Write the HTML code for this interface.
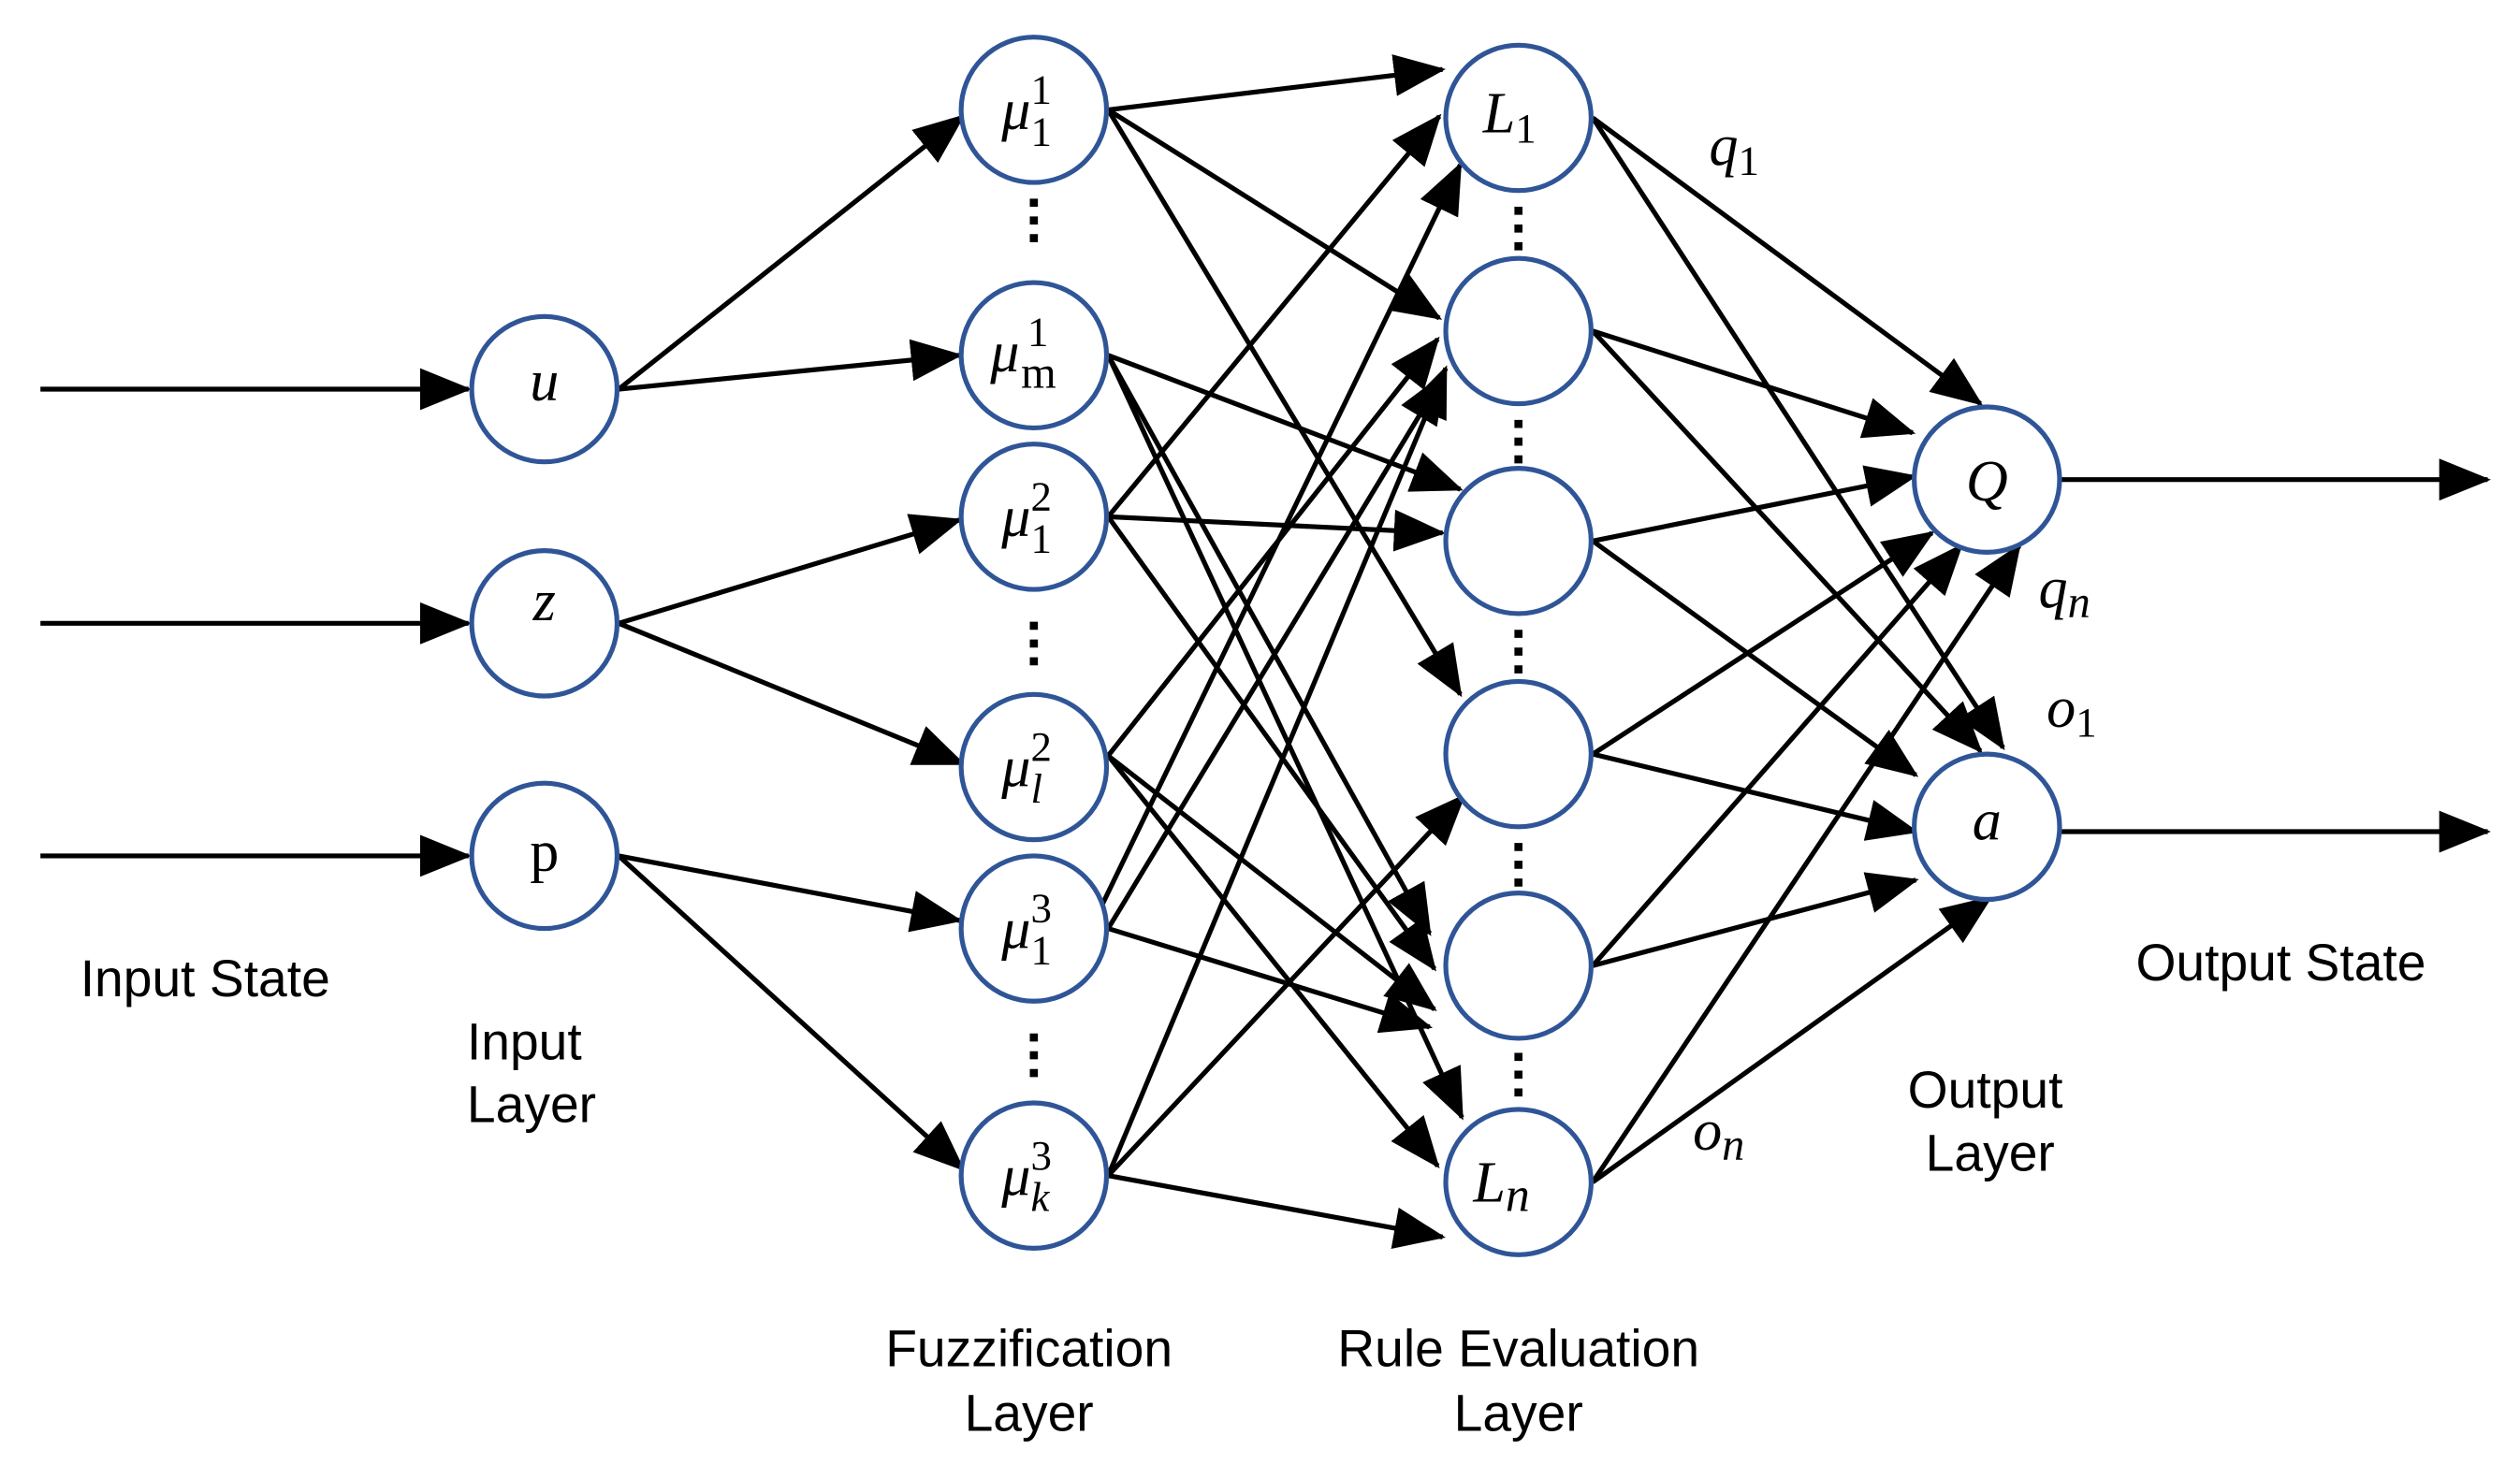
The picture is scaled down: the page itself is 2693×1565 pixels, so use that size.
<!DOCTYPE html>
<html><head><meta charset="utf-8"><style>html,body{margin:0;padding:0;background:#fff}svg{display:block}</style></head><body>
<svg width="2693" height="1565" viewBox="0 0 1560 906.6" xmlns="http://www.w3.org/2000/svg">
<defs>
<marker id="ah" markerUnits="userSpaceOnUse" markerWidth="32" markerHeight="26" refX="30" refY="13" orient="auto">
<path d="M0,0 L32,13 L0,26 Z" fill="#000"/>
</marker>
</defs>
<g stroke="#000" stroke-width="3" fill="none" marker-end="url(#ah)">
<line x1="25" y1="241" x2="290" y2="241"/>
<line x1="25" y1="386" x2="290" y2="386"/>
<line x1="25" y1="530" x2="290" y2="530"/>
<line x1="383" y1="241" x2="596" y2="72"/>
<line x1="383" y1="241" x2="594" y2="220"/>
<line x1="383" y1="386" x2="594" y2="322"/>
<line x1="383" y1="386" x2="596" y2="473"/>
<line x1="383" y1="530" x2="594" y2="570"/>
<line x1="383" y1="530" x2="596" y2="724"/>
<line x1="686" y1="68" x2="893" y2="43"/>
<line x1="686" y1="68" x2="891" y2="197"/>
<line x1="686" y1="68" x2="904" y2="430"/>
<line x1="686" y1="220" x2="904" y2="303"/>
<line x1="686" y1="220" x2="885" y2="578"/>
<line x1="686" y1="220" x2="905" y2="692"/>
<line x1="686" y1="320" x2="891" y2="72"/>
<line x1="686" y1="320" x2="893" y2="330"/>
<line x1="686" y1="320" x2="888" y2="600"/>
<line x1="686" y1="468" x2="890" y2="210"/>
<line x1="686" y1="468" x2="888" y2="625"/>
<line x1="686" y1="468" x2="890" y2="722"/>
<line x1="680" y1="565" x2="904" y2="102"/>
<line x1="686" y1="575" x2="894" y2="232"/>
<line x1="686" y1="575" x2="885" y2="636"/>
<line x1="686" y1="728" x2="895" y2="228"/>
<line x1="686" y1="728" x2="906" y2="493"/>
<line x1="686" y1="728" x2="893" y2="766"/>
<line x1="986" y1="73" x2="1226" y2="250"/>
<line x1="986" y1="73" x2="1240" y2="463"/>
<line x1="986" y1="205" x2="1184" y2="268"/>
<line x1="986" y1="205" x2="1226" y2="465"/>
<line x1="986" y1="335" x2="1185" y2="295"/>
<line x1="986" y1="335" x2="1186" y2="480"/>
<line x1="986" y1="467" x2="1196" y2="330"/>
<line x1="986" y1="467" x2="1186" y2="515"/>
<line x1="986" y1="598" x2="1214" y2="338"/>
<line x1="986" y1="598" x2="1186" y2="545"/>
<line x1="986" y1="732" x2="1250" y2="338"/>
<line x1="986" y1="732" x2="1232" y2="556"/>
<line x1="1276" y1="297" x2="1540" y2="297"/>
<line x1="1276" y1="515" x2="1540" y2="515"/>
</g>
<g stroke="#2f5597" stroke-width="3" fill="#fff">
<circle cx="337" cy="241" r="45"/><circle cx="337" cy="386" r="45"/><circle cx="337" cy="530" r="45"/>
<circle cx="640" cy="68" r="45"/><circle cx="640" cy="220" r="45"/><circle cx="640" cy="320" r="45"/>
<circle cx="640" cy="475" r="45"/><circle cx="640" cy="575" r="45"/><circle cx="640" cy="728" r="45"/>
<circle cx="940" cy="73" r="45"/><circle cx="940" cy="205" r="45"/><circle cx="940" cy="335" r="45"/>
<circle cx="940" cy="467" r="45"/><circle cx="940" cy="598" r="45"/><circle cx="940" cy="732" r="45"/>
<circle cx="1230" cy="297" r="45"/><circle cx="1230" cy="512" r="45"/>
</g>
<g stroke="#000" stroke-width="5" stroke-dasharray="5,6">
<line x1="640" y1="123" x2="640" y2="155"/>
<line x1="640" y1="385" x2="640" y2="418"/>
<line x1="640" y1="640" x2="640" y2="672"/>
<line x1="940" y1="128" x2="940" y2="157"/>
<line x1="940" y1="260" x2="940" y2="290"/>
<line x1="940" y1="390" x2="940" y2="420"/>
<line x1="940" y1="522" x2="940" y2="552"/>
<line x1="940" y1="652" x2="940" y2="685"/>
</g>
<g font-family="Liberation Serif, serif" font-style="italic" font-size="36" fill="#000">
<text x="337" y="248" text-anchor="middle">u</text>
<text x="337" y="384" text-anchor="middle">z</text>
<text x="337" y="539" text-anchor="middle" font-style="normal">p</text>
<text x="620" y="80">μ<tspan font-style="normal" font-size="26" dy="-16">1</tspan><tspan font-style="normal" font-size="26" dx="-13" dy="26">1</tspan></text>
<text x="613" y="230">μ<tspan font-style="normal" font-size="26" dx="5" dy="-16">1</tspan><tspan font-style="normal" font-size="28" dx="-17" dy="26">m</tspan></text>
<text x="620" y="332">μ<tspan font-style="normal" font-size="26" dy="-16">2</tspan><tspan font-style="normal" font-size="26" dx="-13" dy="26">1</tspan></text>
<text x="620" y="487">μ<tspan font-style="normal" font-size="26" dy="-16">2</tspan><tspan font-size="26" dx="-13" dy="26">l</tspan></text>
<text x="620" y="587">μ<tspan font-style="normal" font-size="26" dy="-16">3</tspan><tspan font-style="normal" font-size="26" dx="-13" dy="26">1</tspan></text>
<text x="620" y="740">μ<tspan font-style="normal" font-size="26" dy="-16">3</tspan><tspan font-size="26" dx="-13" dy="26">k</tspan></text>
<text x="918" y="82">L<tspan font-style="normal" font-size="26" dy="6">1</tspan></text>
<text x="912" y="744">L<tspan font-size="30" dy="6">n</tspan></text>
<text x="1230" y="310" text-anchor="middle">Q</text>
<text x="1230" y="520" text-anchor="middle">a</text>
<text x="1058" y="102">q<tspan font-style="normal" font-size="26" dy="6">1</tspan></text>
<text x="1262" y="376">q<tspan font-size="28" dy="6">n</tspan></text>
<text x="1267" y="450">o<tspan font-style="normal" font-size="26" dy="6">1</tspan></text>
<text x="1048" y="712">o<tspan font-size="28" dy="6">n</tspan></text>
</g>
<g font-family="Liberation Sans, Arial, sans-serif" font-size="32" fill="#000">
<text x="127" y="617" text-anchor="middle">Input State</text>
<text x="289" y="656">Input</text>
<text x="289" y="695">Layer</text>
<text x="637" y="846" text-anchor="middle">Fuzzification</text>
<text x="637" y="886" text-anchor="middle">Layer</text>
<text x="940" y="846" text-anchor="middle">Rule Evaluation</text>
<text x="940" y="886" text-anchor="middle">Layer</text>
<text x="1229" y="686" text-anchor="middle">Output</text>
<text x="1232" y="725" text-anchor="middle">Layer</text>
<text x="1412" y="607" text-anchor="middle">Output State</text>
</g>
</svg>
</body></html>
